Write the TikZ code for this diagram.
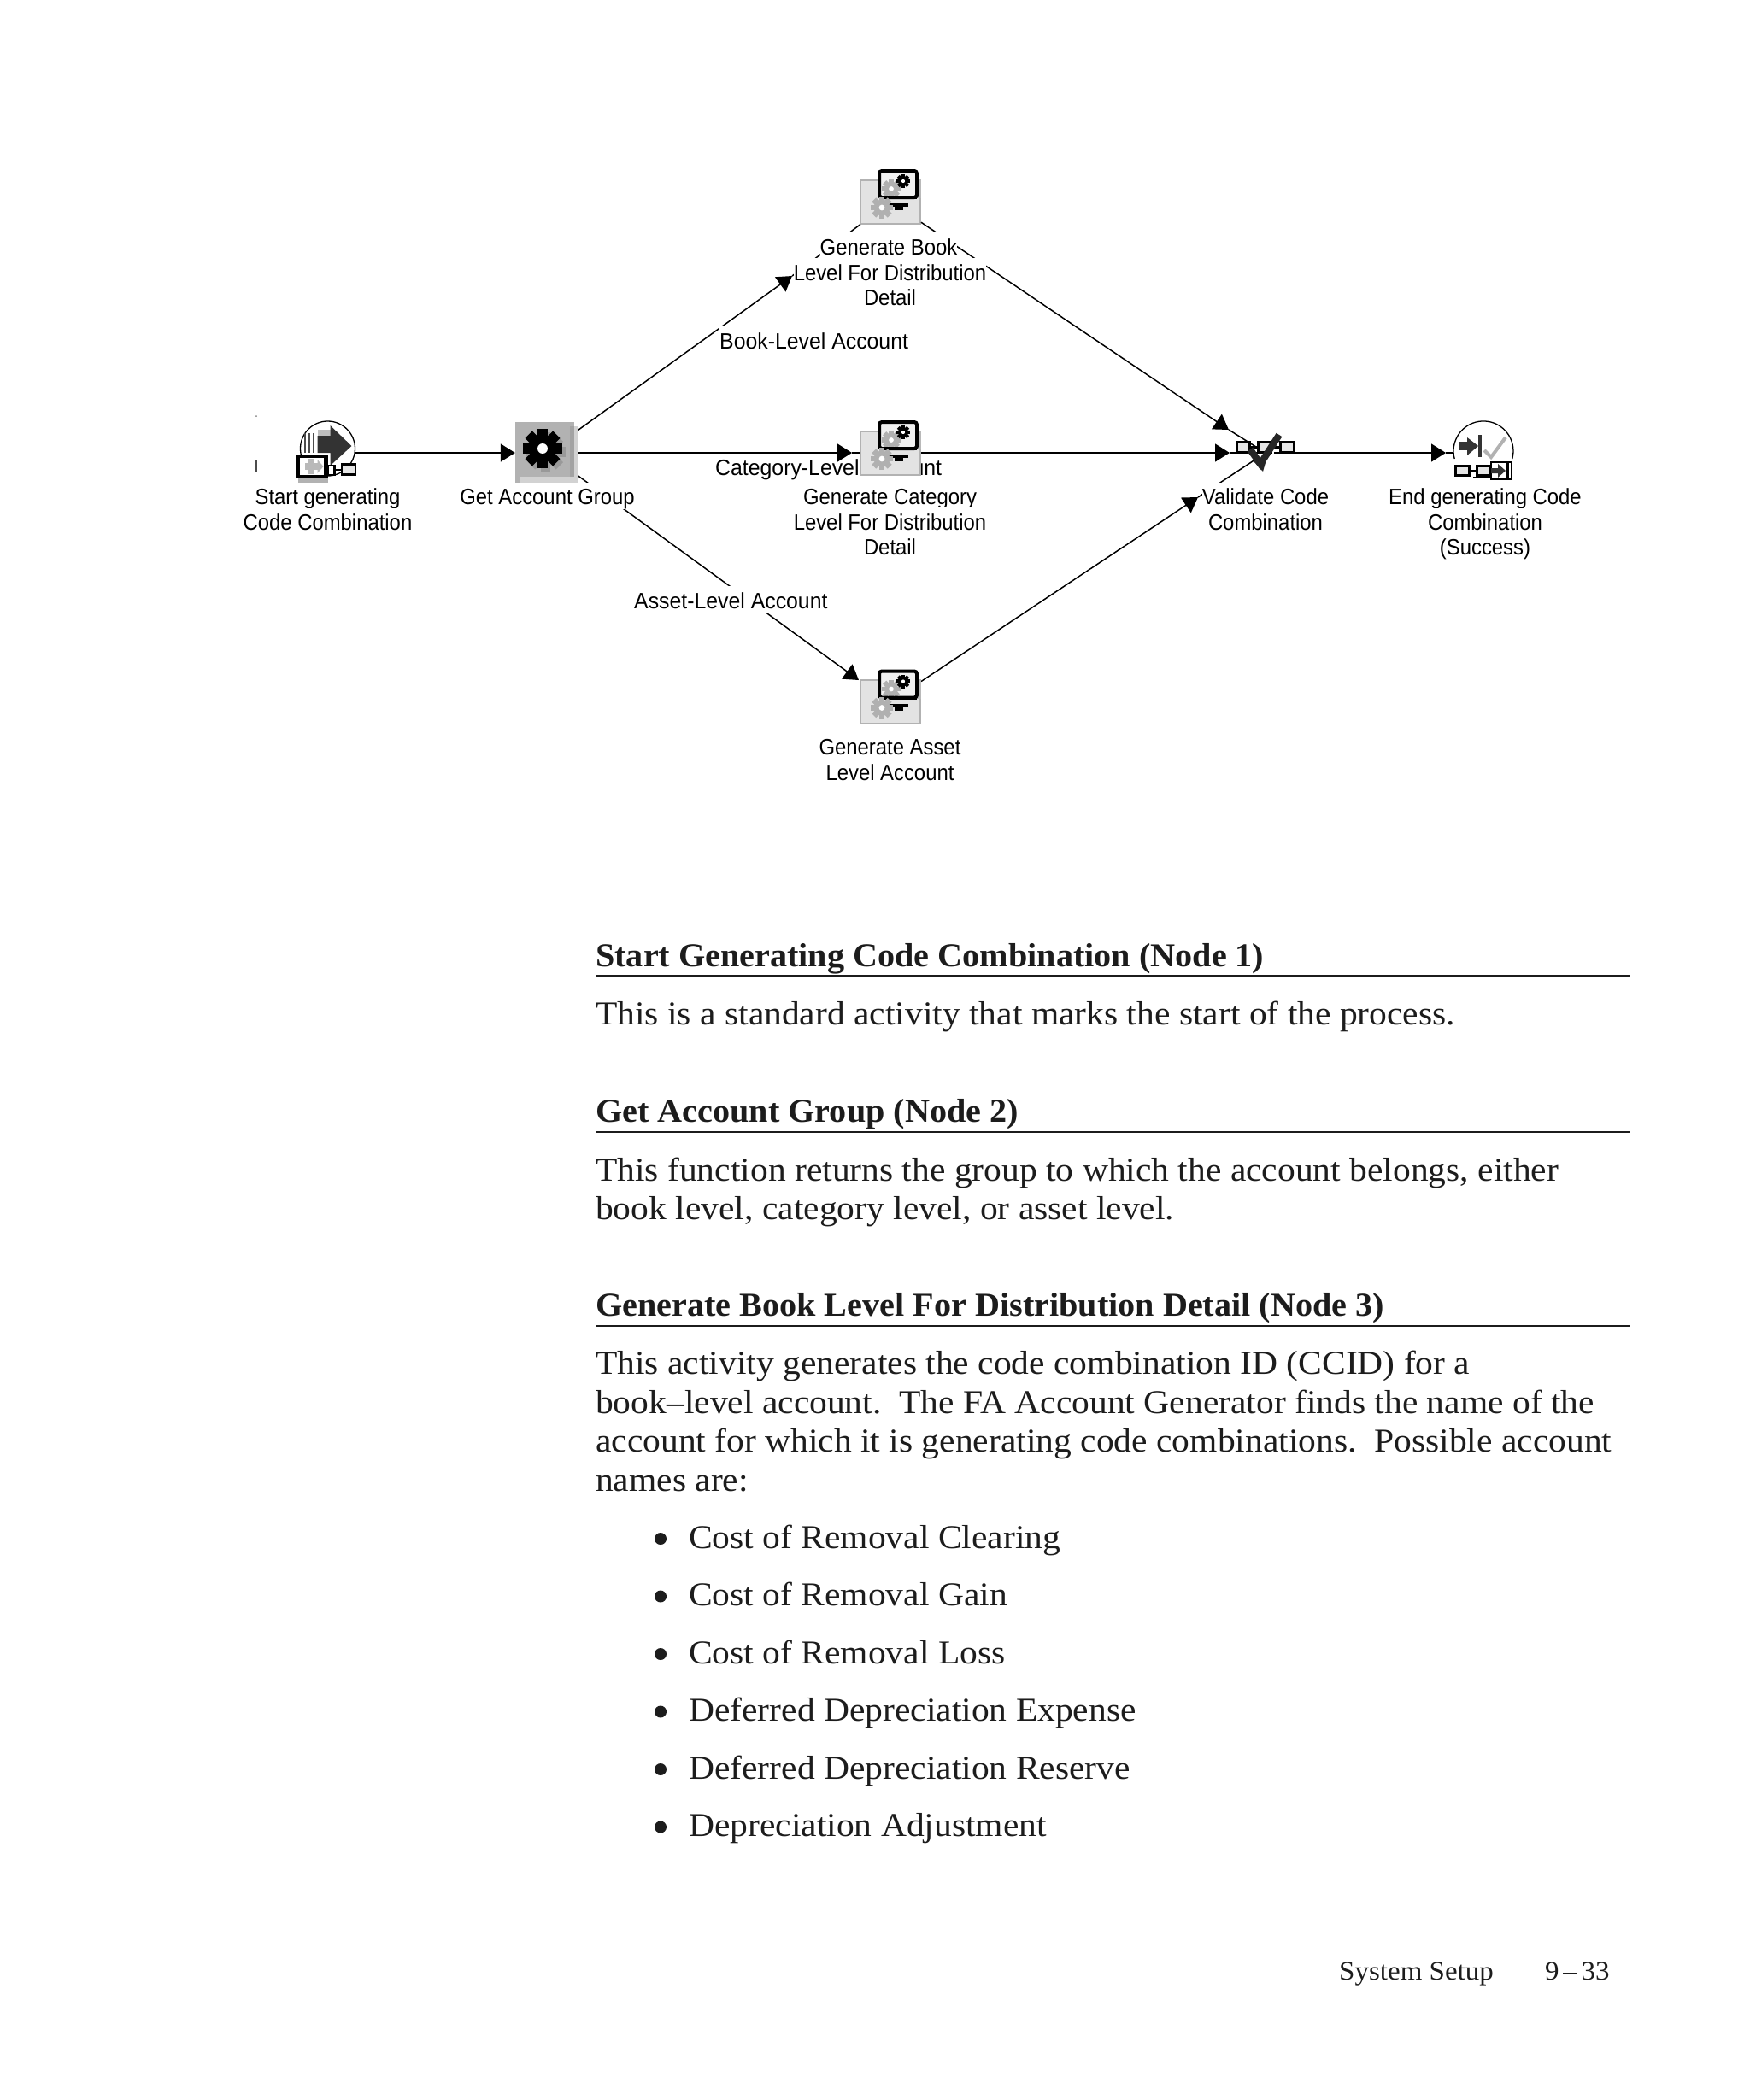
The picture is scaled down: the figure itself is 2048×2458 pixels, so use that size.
\documentclass[tikz,border=0pt]{standalone}
\usepackage{fontspec}
\setmainfont[FakeStretch=1.065,BoldFeatures={FakeStretch=1.03}]{Liberation Serif}
\newfontfamily\wffont[FakeStretch=0.918]{Liberation Sans}
\newfontfamily\wfwide[FakeStretch=0.955]{Liberation Sans}
\usetikzlibrary{arrows.meta}
\definecolor{inkgray}{HTML}{1C1C1C}
\tikzset{
  flow/.style={line width=1.5pt,-{Triangle[length=17pt,width=21pt]}},
  plainflow/.style={line width=1.5pt},
  wflabel/.style={font=\wffont\fontsize{26}{30}\selectfont,fill=white,inner sep=0pt,anchor=base,
    text height=26pt,text depth=5pt,text=black},
  branchlabel/.style={wflabel,font=\wfwide\fontsize{26}{30}\selectfont,anchor=base west},
  headtext/.style={font=\bfseries\fontsize{39}{46}\selectfont,anchor=base west,inner sep=0pt,text=inkgray},
  bodytext/.style={font=\fontsize{39}{46}\selectfont,anchor=base west,inner sep=0pt,text=inkgray},
  foottext/.style={bodytext,font=\fontsize{31}{36}\selectfont},
  headrule/.style={line width=1.6pt,draw=inkgray},
  iconbox/.style={draw=gray!60,line width=2pt,fill=gray!22,minimum width=70pt,minimum height=51pt,inner sep=0pt},
  gearbox/.style={fill=gray!60,minimum width=73pt,minimum height=72pt,inner sep=0pt},
  chainbox/.style={draw=black,line width=2.5pt,fill=gray!20,inner sep=0pt},
  blankicon/.style={circle,inner sep=0pt},
}
% cog: centre, radius, colour
\newcommand{\cog}[4]{
  \foreach \a in {0,45,...,315}
    \fill[#4,shift={(#1,#2)},rotate=\a] (-#3*0.26,0) rectangle (#3*0.26,-#3);
  \fill[#4] (#1,#2) circle[radius=#3*0.72];
  \fill[white] (#1,#2) circle[radius=#3*0.26];
}
% the little screen with gears
\newcommand{\genicon}[1]{
  \begin{scope}[shift={(#1.center)}]
    \fill[gray!55] (30,-26) rectangle (36,-4);
    \fill[gray!12] (-13,-36) rectangle (31,-4);
    \cog{1}{-15}{11}{gray!62}
    \cog{15}{-24}{8}{black}
    \draw[black,line width=4pt,rounded corners=3pt] (-13,-36) rectangle (31,-5);
    \fill[black] (-13,-6) rectangle (31,-3);
    \fill[black] (-2,2) rectangle (21,6);
    \fill[black] (5,6) rectangle (15,10);
    \cog{-10}{7}{13}{gray!62}
  \end{scope}
}
\begin{document}
\begin{tikzpicture}[x=1pt,y=-1pt]
  \useasboundingbox[fill=white] (0,0) rectangle (2048,2458);

  % stray marks
  \fill[gray] (300,487) circle[radius=1pt];
  \draw[gray!60!black,line width=1.5pt] (300,538) -- (300,553);

  % label hidden behind the icon
  \node[branchlabel] (catlabel) at (837,556) {Category-Level Account};

  \node[blankicon,minimum size=64pt] (start) at (383.5,530) {};
  \node[gearbox] (getgroup) at (639.5,530) {};
  \node[iconbox] (bookicon) at (1042,236) {};
  \node[iconbox] (caticon) at (1042,530) {};
  \node[iconbox] (asseticon) at (1042,821.5) {};
  \node[inner sep=0pt,minimum size=20pt] (validate) at (1481,530) {};
  \node[blankicon,minimum size=70pt] (endnode) at (1736,530) {};

  \coordinate (booktip) at (927,323);
  \coordinate (cattip) at (997,530);
  \coordinate (assettip) at (1005,796);
  \coordinate (valtopin) at (1438,503);
  \coordinate (valmidin) at (1439,530);
  \coordinate (valbotin) at (1402,582);
  \coordinate (endtip) at (1692,530);
  \coordinate (starthub) at (383.5,525);
  \coordinate (endhub) at (1736,528);

  \draw[flow] (start) -- (getgroup);
  \draw[flow] (getgroup) -- (booktip);
  \draw[plainflow] (booktip) -- (bookicon);
  \draw[flow] (getgroup) -- (cattip);
  \draw[plainflow] (cattip) -- (caticon);
  \draw[flow] (getgroup) -- (assettip);
  \draw[flow] (bookicon) -- (valtopin);
  \draw[plainflow] (valtopin) -- (validate);
  \draw[flow] (caticon) -- (valmidin);
  \draw[plainflow] (valmidin) -- (validate);
  \draw[flow] (asseticon) -- (valbotin);
  \draw[plainflow] (valbotin) -- (validate);
  \draw[flow] (validate) -- (endtip);
  \draw[plainflow] (endtip) -- (endnode);

  % start icon
  \begin{scope}[shift={(starthub)}]
    \draw[black,line width=1.3pt] (0,0) circle[radius=32pt];
    \fill[gray!50] (-12,-22) rectangle (3,-15);
    \foreach \x in {-27,-22,-17}
      \draw[black!70,line width=2pt] (\x,-18) -- (\x,5);
    \fill[gray!40!black] (-12,-15) -- (3,-15) -- (3,-27) -- (28,-3) -- (3,20) -- (3,5) -- (-12,5) -- cycle;
    \fill[gray!60] (-35,33) rectangle (0,40);
    \fill[white] (-37,7) rectangle (0,35);
    \draw[black,line width=4.5pt] (-35,9) rectangle (-2,33);
    \fill[gray!55] (-27,17) rectangle (-12,25);
    \fill[gray!55] (-23,12) rectangle (-16,30);
    \fill[gray!55] (-12,13) -- (-5,21) -- (-12,29) -- cycle;
    \draw[black,line width=1.5pt] (4,25) -- (24,25);
    \node[chainbox,fill=white,minimum width=8pt,minimum height=11pt] (startchaina) at (4,25.5) {};
    \node[chainbox,minimum width=16pt,minimum height=12pt] (startchainb) at (24.5,24.5) {};
  \end{scope}

  % gear icon
  \begin{scope}[shift={(getgroup.center)}]
    \fill[gray!35] (-32,28) rectangle (36.5,36);
    \fill[gray!72] (27,-31) rectangle (32,28);
    \fill[gray!35] (32,-31) rectangle (36.5,36);
    \fill[white] (32,-36) rectangle (37,-31);
    \cog{-1}{-1}{23}{gray!80}
    \cog{-4.5}{-5}{23}{black}
  \end{scope}

  \genicon{bookicon}
  \genicon{caticon}
  \genicon{asseticon}

  % validate icon
  \node[chainbox,minimum width=15pt,minimum height=12pt] (valchaina) at (1455,523.5) {};
  \node[chainbox,minimum width=15pt,minimum height=12pt] (valchainb) at (1480,523.5) {};
  \node[chainbox,minimum width=16pt,minimum height=12pt] (valchainc) at (1506.5,523.5) {};
  \draw[black,line width=2.5pt] (valchaina) -- (valchainb);
  \draw[black,line width=2.5pt] (valchainb) -- (valchainc);
  \draw[gray!30!black,line width=8pt] (1463,526) -- (1475,543) -- (1497,509);
  \fill[gray!30!black] (1467,540) -- (1478,552) -- (1482,538) -- cycle;

  % end icon
  \begin{scope}[shift={(endhub)}]
    \draw[black,line width=1.3pt] (-33.8,9) arc[start angle=195,end angle=-15,radius=35pt];
    \fill[gray!40!black] (-29,-11) rectangle (-14,-1);
    \fill[gray!40!black] (-19,-16) -- (-6,-6) -- (-19,5) -- cycle;
    \fill[gray!40!black] (-6,-19) rectangle (-2,7);
    \draw[gray!60,line width=4pt] (1,-1) -- (9,7) -- (26,-16);
    \draw[black,line width=1.5pt] (-16,23) -- (9,23);
    \draw[black,line width=1.5pt] (-12,31) -- (8,31);
    \node[chainbox,minimum width=16pt,minimum height=11pt] (endchaina) at (-24.5,23) {};
    \node[chainbox,minimum width=16pt,minimum height=11pt] (endchainb) at (0.5,23) {};
    \fill[white] (9,12) rectangle (34,34);
    \draw[black,line width=2.5pt] (9,13) rectangle (33,33);
    \draw[black,line width=2.5pt] (9,23) -- (16,23);
    \fill[gray!40!black] (9,20) -- (17,20) -- (17,15) -- (26,23) -- (17,31) -- (17,26) -- (9,26) -- cycle;
    \fill[black] (26,13) rectangle (30,33);
  \end{scope}

  % node labels, one box for each line
  \node[wflabel] (starttxta) at (383.5,590.5) {Start generating};
  \node[wflabel] (starttxtb) at (383.5,620.5) {Code Combination};
  \node[wflabel] (grouptxt) at (640.5,590.5) {Get Account Group};
  \node[wflabel] (booktxta) at (1040,298) {Generate Book};
  \node[wflabel] (booktxtb) at (1041.5,328) {Level For Distribution};
  \node[wflabel] (booktxtc) at (1041.5,357) {Detail};
  \node[wflabel] (cattxta) at (1041.5,590) {Generate Category};
  \node[wflabel] (cattxtb) at (1041.5,620) {Level For Distribution};
  \node[wflabel] (cattxtc) at (1041.5,649.5) {Detail};
  \node[wflabel] (assettxta) at (1041.5,883) {Generate Asset};
  \node[wflabel] (assettxtb) at (1041.5,913) {Level Account};
  \node[wflabel] (valtxta) at (1481,590.5) {Validate Code};
  \node[wflabel] (valtxtb) at (1481,620.5) {Combination};
  \node[wflabel] (endtxta) at (1738,590.5) {End generating Code};
  \node[wflabel] (endtxtb) at (1738,620.5) {Combination};
  \node[wflabel] (endtxtc) at (1738,649.5) {(Success)};

  % branch labels
  \node[branchlabel] (booklabel) at (842,408) {Book-Level Account};
  \node[branchlabel] (assetlabel) at (742,712) {Asset-Level Account};

  % text below the diagram
  \node[headtext] (headone) at (697,1131) {Start Generating Code Combination (Node 1)};
  \coordinate (ruleonea) at (697,1142);
  \coordinate (ruleoneb) at (1907,1142);
  \draw[headrule] (ruleonea) -- (ruleoneb);
  \node[bodytext] (bodyone) at (697,1199) {This is a standard activity that marks the start of the process.};

  \node[headtext] (headtwo) at (697,1313) {Get Account Group (Node 2)};
  \coordinate (ruletwoa) at (697,1325);
  \coordinate (ruletwob) at (1907,1325);
  \draw[headrule] (ruletwoa) -- (ruletwob);
  \node[bodytext] (bodytwoa) at (697,1382) {This function returns the group to which the account belongs, either};
  \node[bodytext] (bodytwob) at (697,1427) {book level, category level, or asset level.};

  \node[headtext] (headthree) at (697,1540) {Generate Book Level For Distribution Detail (Node 3)};
  \coordinate (rulethreea) at (697,1552);
  \coordinate (rulethreeb) at (1907,1552);
  \draw[headrule] (rulethreea) -- (rulethreeb);
  \node[bodytext] (bodythreea) at (697,1608.5) {This activity generates the code combination ID (CCID) for a};
  \node[bodytext] (bodythreeb) at (697,1654) {book--level account.\ \ The FA Account Generator finds the name of the};
  \node[bodytext] (bodythreec) at (697,1699.5) {account for which it is generating code combinations.\ \ Possible account};
  \node[bodytext] (bodythreed) at (697,1745) {names are:};

  % account names
  \foreach \n/\y/\t in {a/1812/Cost of Removal Clearing,b/1879.5/Cost of Removal Gain,c/1947/Cost of Removal Loss,
      d/2014.5/Deferred Depreciation Expense,e/2082/Deferred Depreciation Reserve,f/2149.5/Depreciation Adjustment}{
    \fill[inkgray] (773,\y-11) circle[radius=7pt];
    \node[bodytext] (acct\n) at (806,\y) {\t};
  }

  \node[foottext] (footl) at (1567,2317) {System Setup};
  \node[foottext] (footr) at (1808,2317) {9\hspace{.15em}--\hspace{.15em}33};
\end{tikzpicture}
\end{document}
